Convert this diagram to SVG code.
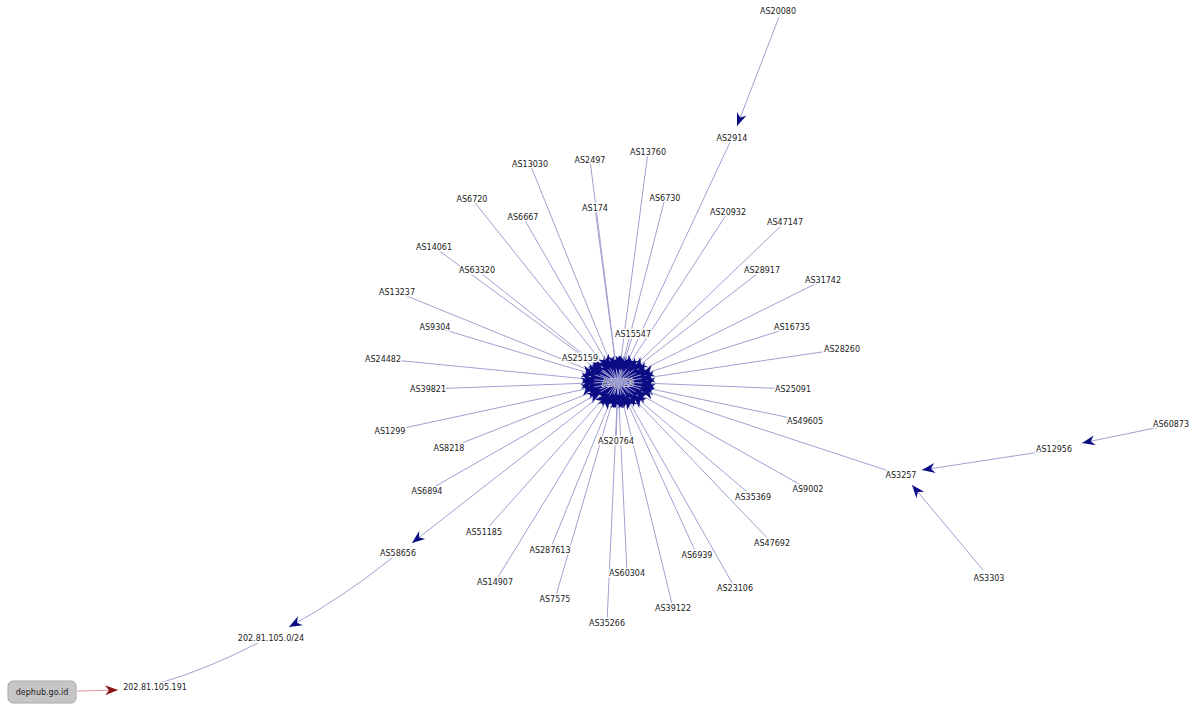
<svg xmlns="http://www.w3.org/2000/svg" width="1197" height="707" viewBox="0 0 1197 707">
<style>
text{font-family:"DejaVu Sans","Liberation Sans",sans-serif;font-size:8px;fill:#1a1a1a;text-anchor:middle;dominant-baseline:central;paint-order:stroke;stroke:#fff;stroke-width:3px;stroke-linejoin:round}
.e{stroke:#a0a0d2;stroke-width:1;fill:none}
.eh{marker-end:url(#mh)}.ed1{marker-end:url(#md1)}.ed2{marker-end:url(#md2)}.ev{marker-end:url(#mv)}
.ea{marker-end:url(#ma)}
.er{stroke:#e39a9a;stroke-width:1;fill:none;marker-end:url(#mr)}
</style>
<defs>
<marker id="mh" markerUnits="userSpaceOnUse" orient="auto" refX="23" refY="0" overflow="visible"><path d="M0,0 L-14,-6 L-10,0 L-14,6 Z" fill="#0c0c85"/></marker>
<marker id="md1" markerUnits="userSpaceOnUse" orient="auto" refX="19" refY="0" overflow="visible"><path d="M0,0 L-14,-6 L-10,0 L-14,6 Z" fill="#0c0c85"/></marker>
<marker id="md2" markerUnits="userSpaceOnUse" orient="auto" refX="15" refY="0" overflow="visible"><path d="M0,0 L-14,-6 L-10,0 L-14,6 Z" fill="#0c0c85"/></marker>
<marker id="mv" markerUnits="userSpaceOnUse" orient="auto" refX="12" refY="0" overflow="visible"><path d="M0,0 L-14,-6 L-10,0 L-14,6 Z" fill="#0c0c85"/></marker>
<marker id="ma" markerUnits="userSpaceOnUse" orient="auto" refX="0" refY="0" overflow="visible"><path d="M0,0 L-13,-5 L-9,0 L-13,5 Z" fill="#0c0c85"/></marker>
<marker id="mr" markerUnits="userSpaceOnUse" orient="auto" refX="0" refY="0" overflow="visible"><path d="M0,0 L-13,-5 L-9,0 L-13,5 Z" fill="#8a1414"/></marker>
</defs>
<rect width="1197" height="707" fill="#fff"/>
<g id="n-AS7713">
<ellipse cx="618" cy="382" rx="29" ry="17" fill="#0c0c85"/>
<text x="618" y="383" style="stroke:#d8d8f4;stroke-width:2px">AS7713</text>
</g>
<g id="connectors">
<line class="e ev" x1="732" y1="138" x2="618" y2="382"/>
<line class="e ev" x1="530" y1="164" x2="618" y2="382"/>
<line class="e ev" x1="590" y1="160" x2="618" y2="382"/>
<line class="e ev" x1="648" y1="152" x2="618" y2="382"/>
<line class="e ev" x1="595" y1="208" x2="618" y2="382"/>
<line class="e ev" x1="665" y1="198" x2="618" y2="382"/>
<line class="e ev" x1="633" y1="334" x2="618" y2="382"/>
<line class="e ev" x1="550" y1="550" x2="618" y2="382"/>
<line class="e ev" x1="555" y1="599" x2="618" y2="382"/>
<line class="e ev" x1="627" y1="573" x2="618" y2="382"/>
<line class="e ev" x1="607" y1="623" x2="618" y2="382"/>
<line class="e ev" x1="673" y1="608" x2="618" y2="382"/>
<line class="e ev" x1="697" y1="555" x2="618" y2="382"/>
<line class="e ev" x1="616" y1="441" x2="618" y2="382"/>
<line class="e ed2" x1="472" y1="199" x2="618" y2="382"/>
<line class="e ed2" x1="523" y1="217" x2="618" y2="382"/>
<line class="e ed2" x1="728" y1="212" x2="618" y2="382"/>
<line class="e ed2" x1="785" y1="222" x2="618" y2="382"/>
<line class="e ed2" x1="484" y1="532" x2="618" y2="382"/>
<line class="e ed2" x1="495" y1="582" x2="618" y2="382"/>
<line class="e ed2" x1="735" y1="588" x2="618" y2="382"/>
<line class="e ed2" x1="772" y1="543" x2="618" y2="382"/>
<line class="e ed1" x1="753" y1="497" x2="618" y2="382"/>
<line class="e ed1" x1="762" y1="270" x2="618" y2="382"/>
<line class="e ed1" x1="823" y1="280" x2="618" y2="382"/>
<line class="e ed1" x1="434" y1="247" x2="618" y2="382"/>
<line class="e ed1" x1="477" y1="270" x2="618" y2="382"/>
<line class="e ed1" x1="397" y1="292" x2="618" y2="382"/>
<line class="e ed1" x1="580" y1="358" x2="618" y2="382"/>
<line class="e ed1" x1="449" y1="448" x2="618" y2="382"/>
<line class="e ed1" x1="427" y1="491" x2="618" y2="382"/>
<line class="e ed1" x1="808" y1="489" x2="618" y2="382"/>
<line class="e eh" x1="435" y1="327" x2="618" y2="382"/>
<line class="e eh" x1="383" y1="359" x2="618" y2="382"/>
<line class="e eh" x1="428" y1="389" x2="618" y2="382"/>
<line class="e eh" x1="792" y1="327" x2="618" y2="382"/>
<line class="e eh" x1="842" y1="349" x2="618" y2="382"/>
<line class="e eh" x1="793" y1="389" x2="618" y2="382"/>
<line class="e eh" x1="805" y1="421" x2="618" y2="382"/>
<line class="e eh" x1="390" y1="431" x2="618" y2="382"/>
<line class="e eh" x1="901" y1="475" x2="618" y2="382"/>
<line class="e ea" x1="779" y1="17" x2="737" y2="126"/>
<line class="e ea" x1="1160" y1="427" x2="1082" y2="443"/>
<line class="e ea" x1="1040" y1="452" x2="922" y2="470"/>
<line class="e ea" x1="983" y1="570" x2="912" y2="485"/>
<line class="e ea" x1="600" y1="396" x2="412" y2="543"/>
<path class="e ea" d="M392,558 Q342,598 289,627"/>
<path class="e" d="M258,643 Q205,670 160,683"/>
<line class="er" x1="77" y1="691" x2="118" y2="690"/>
</g>
<g id="n-AS20080"><text x="778" y="11">AS20080</text></g>
<g id="n-AS2914"><text x="732" y="138">AS2914</text></g>
<g id="n-AS13030"><text x="530" y="164">AS13030</text></g>
<g id="n-AS2497"><text x="590" y="160">AS2497</text></g>
<g id="n-AS13760"><text x="648" y="152">AS13760</text></g>
<g id="n-AS6720"><text x="472" y="199">AS6720</text></g>
<g id="n-AS6667"><text x="523" y="217">AS6667</text></g>
<g id="n-AS174"><text x="595" y="208">AS174</text></g>
<g id="n-AS6730"><text x="665" y="198">AS6730</text></g>
<g id="n-AS20932"><text x="728" y="212">AS20932</text></g>
<g id="n-AS47147"><text x="785" y="222">AS47147</text></g>
<g id="n-AS28917"><text x="762" y="270">AS28917</text></g>
<g id="n-AS31742"><text x="823" y="280">AS31742</text></g>
<g id="n-AS14061"><text x="434" y="247">AS14061</text></g>
<g id="n-AS63320"><text x="477" y="270">AS63320</text></g>
<g id="n-AS13237"><text x="397" y="292">AS13237</text></g>
<g id="n-AS9304"><text x="435" y="327">AS9304</text></g>
<g id="n-AS24482"><text x="383" y="359">AS24482</text></g>
<g id="n-AS39821"><text x="428" y="389">AS39821</text></g>
<g id="n-AS25159"><text x="580" y="358">AS25159</text></g>
<g id="n-AS15547"><text x="633" y="334">AS15547</text></g>
<g id="n-AS16735"><text x="792" y="327">AS16735</text></g>
<g id="n-AS28260"><text x="842" y="349">AS28260</text></g>
<g id="n-AS25091"><text x="793" y="389">AS25091</text></g>
<g id="n-AS49605"><text x="805" y="421">AS49605</text></g>
<g id="n-AS1299"><text x="390" y="431">AS1299</text></g>
<g id="n-AS8218"><text x="449" y="448">AS8218</text></g>
<g id="n-AS20764"><text x="616" y="441">AS20764</text></g>
<g id="n-AS6894"><text x="427" y="491">AS6894</text></g>
<g id="n-AS35369"><text x="753" y="497">AS35369</text></g>
<g id="n-AS9002"><text x="808" y="489">AS9002</text></g>
<g id="n-AS51185"><text x="484" y="532">AS51185</text></g>
<g id="n-AS287613"><text x="550" y="550">AS287613</text></g>
<g id="n-AS58656"><text x="398" y="553">AS58656</text></g>
<g id="n-AS47692"><text x="772" y="543">AS47692</text></g>
<g id="n-AS6939"><text x="697" y="555">AS6939</text></g>
<g id="n-AS60304"><text x="627" y="573">AS60304</text></g>
<g id="n-AS14907"><text x="495" y="582">AS14907</text></g>
<g id="n-AS23106"><text x="735" y="588">AS23106</text></g>
<g id="n-AS7575"><text x="555" y="599">AS7575</text></g>
<g id="n-AS39122"><text x="673" y="608">AS39122</text></g>
<g id="n-AS35266"><text x="607" y="623">AS35266</text></g>
<g id="n-AS3257"><text x="901" y="475">AS3257</text></g>
<g id="n-AS12956"><text x="1054" y="449">AS12956</text></g>
<g id="n-AS60873"><text x="1171" y="424">AS60873</text></g>
<g id="n-AS3303"><text x="989" y="578">AS3303</text></g>
<g id="n-prefix"><text x="271" y="638">202.81.105.0/24</text></g>
<g id="n-ip"><text x="155" y="687">202.81.105.191</text></g>
<g id="n-dephub">
<rect x="8" y="681" width="68" height="22" rx="5" fill="#c6c6c6" stroke="#a8a8a8"/>
<text x="42" y="692" style="stroke:none">dephub.go.id</text>
</g>
</svg>
